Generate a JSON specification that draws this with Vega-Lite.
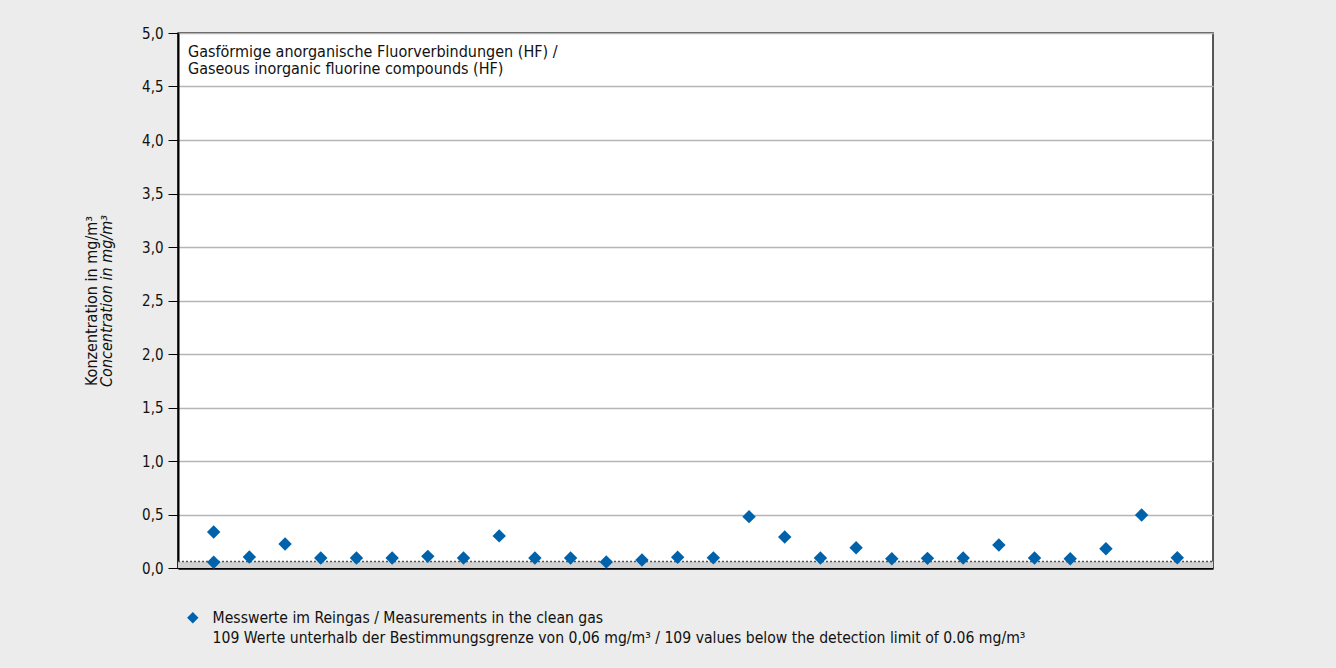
{
  "$schema": "https://vega.github.io/schema/vega-lite/v6.json",
  "width": 1035,
  "height": 535,
  "autosize": {"type": "none"},
  "padding": {"left": 178, "top": 33, "right": 123, "bottom": 100},
  "background": "#ebeceb",
  "config": {
    "font": "Liberation Sans Narrow, DejaVu Sans Condensed, sans-serif",
    "view": {"fill": "white", "stroke": "#222222", "strokeWidth": 1.5}
  },
  "title": {
    "text": ["Gasförmige anorganische Fluorverbindungen (HF) /", "Gaseous inorganic fluorine compounds (HF)"],
    "anchor": "start",
    "frame": "group",
    "orient": "top",
    "baseline": "top",
    "offset": -17,
    "dx": 10,
    "dy": 34,
    "fontSize": 16,
    "fontWeight": "normal",
    "color": "#111111",
    "lineHeight": 17
  },
  "datasets": {
    "points": [
      {"pos": 1, "value": 0.336},
      {"pos": 1, "value": 0.053},
      {"pos": 2, "value": 0.103},
      {"pos": 3, "value": 0.224},
      {"pos": 4, "value": 0.093},
      {"pos": 5, "value": 0.093},
      {"pos": 6, "value": 0.093},
      {"pos": 7, "value": 0.109},
      {"pos": 8, "value": 0.093},
      {"pos": 9, "value": 0.3},
      {"pos": 10, "value": 0.093},
      {"pos": 11, "value": 0.093},
      {"pos": 12, "value": 0.056},
      {"pos": 13, "value": 0.075},
      {"pos": 14, "value": 0.1},
      {"pos": 15, "value": 0.095},
      {"pos": 16, "value": 0.48},
      {"pos": 17, "value": 0.29},
      {"pos": 18, "value": 0.093},
      {"pos": 19, "value": 0.19},
      {"pos": 20, "value": 0.087},
      {"pos": 21, "value": 0.09},
      {"pos": 22, "value": 0.093},
      {"pos": 23, "value": 0.215},
      {"pos": 24, "value": 0.093},
      {"pos": 25, "value": 0.087},
      {"pos": 26, "value": 0.18},
      {"pos": 27, "value": 0.495},
      {"pos": 28, "value": 0.096}
    ],
    "limit": [
      {"lo": 0, "hi": 0.06, "x0": 0, "x1": 29, "label": "109 Werte unterhalb der Bestimmungsgrenze von 0,06 mg/m³ / 109 values below the detection limit of 0.06 mg/m³"}
    ]
  },
  "resolve": {"scale": {"y": "independent"}},
  "layer": [
    {
      "data": {"name": "limit"},
      "mark": {"type": "rect", "color": "#d2d2d2"},
      "encoding": {
        "x": {"field": "x0", "type": "quantitative", "scale": {"domain": [0, 29]}},
        "x2": {"field": "x1"},
        "y": {"field": "lo", "type": "quantitative", "scale": {"domain": [0, 5]}, "axis": null},
        "y2": {"field": "hi"}
      }
    },
    {
      "data": {"name": "limit"},
      "mark": {"type": "rule", "color": "#555555", "strokeWidth": 1.5},
      "encoding": {
        "x": {"field": "x0", "type": "quantitative", "scale": {"domain": [0, 29]}},
        "x2": {"field": "x1"},
        "y": {
          "field": "hi",
          "type": "quantitative",
          "scale": {"domain": [0, 5]},
          "axis": {
            "orient": "left",
            "labels": false,
            "ticks": false,
            "grid": false,
            "domain": true,
            "domainOpacity": 0,
            "title": "Konzentration in mg/m³",
            "titleFontSize": 16,
            "titleFontWeight": "normal",
            "titleColor": "#111111",
            "titlePadding": 79
          }
        },
        "strokeDash": {
          "field": "label",
          "type": "nominal",
          "scale": {"range": [[2, 2]]},
          "legend": {
            "orient": "none",
            "legendX": 7,
            "legendY": 597,
            "title": null,
            "padding": 0,
            "symbolType": "diamond",
            "symbolSize": 130,
            "symbolOpacity": 0,
            "symbolStrokeWidth": 0,
            "labelFontSize": 15.6,
            "labelOffset": 12,
            "labelColor": "#111111",
            "labelLimit": 1000
          }
        }
      }
    },
    {
      "data": {"name": "points"},
      "mark": {"type": "point", "shape": "diamond", "filled": true, "size": 180, "opacity": 1},
      "encoding": {
        "x": {
          "field": "pos",
          "type": "quantitative",
          "scale": {"domain": [0, 29]},
          "axis": {
            "orient": "bottom",
            "labels": false,
            "ticks": false,
            "grid": false,
            "title": null,
            "domainColor": "#000000",
            "domainWidth": 2.5
          }
        },
        "y": {
          "field": "value",
          "type": "quantitative",
          "scale": {"domain": [0, 5]},
          "axis": {
            "orient": "left",
            "values": [0, 0.5, 1, 1.5, 2, 2.5, 3, 3.5, 4, 4.5, 5],
            "labelExpr": "replace(format(datum.value, '.1f'), '.', ',')",
            "grid": true,
            "gridColor": "#b5b5b5",
            "gridWidth": 1.5,
            "domainColor": "#000000",
            "domainWidth": 2,
            "tickColor": "#000000",
            "tickSize": 10,
            "tickWidth": 1,
            "labelFontSize": 15,
            "labelPadding": 5,
            "labelColor": "#111111",
            "title": "Concentration in mg/m³",
            "titleFontStyle": "italic",
            "titleFontSize": 16,
            "titleFontWeight": "normal",
            "titleColor": "#111111",
            "titlePadding": 27
          }
        },
        "color": {
          "datum": "Messwerte im Reingas / Measurements in the clean gas",
          "type": "nominal",
          "scale": {"range": ["#0062ab"]},
          "legend": {
            "orient": "none",
            "legendX": 7,
            "legendY": 577,
            "title": null,
            "padding": 0,
            "symbolType": "diamond",
            "symbolSize": 130,
            "symbolStrokeWidth": 0,
            "labelFontSize": 15.6,
            "labelOffset": 12,
            "labelColor": "#111111",
            "labelLimit": 1000
          }
        }
      }
    }
  ]
}
